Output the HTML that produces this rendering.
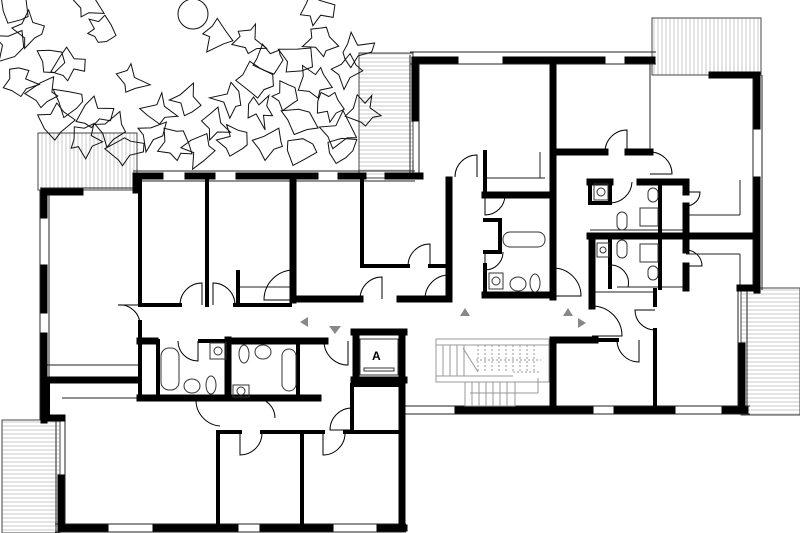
<!DOCTYPE html>
<html><head><meta charset="utf-8"><style>
html,body{margin:0;padding:0;background:#fff;width:800px;height:533px;overflow:hidden}
svg{display:block}
</style></head><body>
<svg id="s" width="800" height="533" viewBox="0 0 800 533" xmlns="http://www.w3.org/2000/svg">
<defs>
<pattern id="vs" width="4" height="4" patternUnits="userSpaceOnUse"><rect width="4" height="4" fill="#fff"/><line x1="2" y1="0" x2="2" y2="4" stroke="#bbb" stroke-width="0.8"/></pattern>
<pattern id="hs" width="4" height="4" patternUnits="userSpaceOnUse"><rect width="4" height="4" fill="#fff"/><line x1="0" y1="2" x2="4" y2="2" stroke="#bbb" stroke-width="0.8"/></pattern>
</defs>
<!-- balconies -->
<g stroke="#444" stroke-width="1">
<rect x="38" y="133" width="99" height="57" fill="url(#vs)"/>
<rect x="359" y="53" width="54" height="125" fill="url(#hs)"/>
<rect x="652" y="18" width="109" height="57" fill="url(#vs)"/>
<rect x="741" y="288" width="59" height="127" fill="url(#hs)"/>
<rect x="2" y="420" width="58" height="113" fill="url(#hs)"/>
</g>
<g id="trees" fill="none" stroke="#111" stroke-width="1"></g>
<circle cx="193" cy="14" r="15" fill="none" stroke="#111" stroke-width="1"/>
<!-- thin window/outline lines -->
<g stroke="#222" stroke-width="1" fill="none">
<line x1="133" y1="171" x2="415" y2="171"/><line x1="133" y1="181" x2="415" y2="181"/>
<line x1="40" y1="188" x2="137" y2="188"/><line x1="40" y1="190" x2="40" y2="420"/><line x1="49" y1="190" x2="49" y2="420"/>
<line x1="56" y1="420" x2="56" y2="533"/><line x1="65" y1="420" x2="65" y2="530"/>
<line x1="55" y1="524" x2="406" y2="524"/><line x1="55" y1="532" x2="406" y2="532"/>
<line x1="410" y1="52" x2="656" y2="52"/><line x1="410" y1="64" x2="656" y2="64"/>
<line x1="410" y1="55" x2="410" y2="178"/><line x1="419" y1="60" x2="419" y2="178"/>
<line x1="762" y1="75" x2="762" y2="290"/><line x1="753" y1="75" x2="753" y2="290"/>
<line x1="405" y1="406" x2="750" y2="406"/><line x1="405" y1="414" x2="750" y2="414"/>
<line x1="738" y1="290" x2="738" y2="412"/><line x1="747" y1="290" x2="747" y2="412"/>
<line x1="45" y1="365" x2="140" y2="365"/>
<line x1="62" y1="398" x2="215" y2="398"/>
<line x1="240" y1="287" x2="290" y2="287"/>
<line x1="485" y1="178" x2="545" y2="178"/>
<line x1="650" y1="62" x2="650" y2="152"/>
<line x1="590" y1="230" x2="686" y2="230"/>
<line x1="617" y1="287" x2="686" y2="287"/>
<line x1="593" y1="292" x2="655" y2="292"/>
<line x1="686" y1="215" x2="740" y2="215"/><line x1="740" y1="180" x2="740" y2="215"/>
<line x1="686" y1="254" x2="740" y2="254"/><line x1="740" y1="254" x2="740" y2="290"/>
<line x1="540" y1="152" x2="540" y2="178"/><line x1="413" y1="178" x2="413" y2="160"/>
</g>
<!-- walls -->
<g stroke="#000" fill="none" stroke-linecap="square">
<g stroke-width="7">
<line x1="137" y1="176" x2="160" y2="176"/><line x1="188" y1="176" x2="212" y2="176"/>
<line x1="239" y1="176" x2="315" y2="176"/><line x1="341" y1="176" x2="363" y2="176"/><line x1="389" y1="176" x2="413" y2="176"/>
<line x1="136" y1="176" x2="136" y2="190"/>
<line x1="44" y1="192" x2="80" y2="192"/>
<line x1="44" y1="192" x2="44" y2="215"/><line x1="44" y1="268" x2="44" y2="310"/><line x1="44" y1="336" x2="44" y2="420"/>
<line x1="44" y1="418" x2="62" y2="418"/>
<line x1="61" y1="478" x2="61" y2="528"/>
<line x1="61" y1="528" x2="105" y2="528"/><line x1="156" y1="528" x2="235" y2="528"/><line x1="263" y1="528" x2="330" y2="528"/><line x1="380" y1="528" x2="404" y2="528"/>
<line x1="402" y1="332" x2="402" y2="528"/>
<line x1="293" y1="177" x2="293" y2="300"/>
<line x1="293" y1="299" x2="360" y2="299"/><line x1="400" y1="299" x2="449" y2="299"/>
<line x1="449" y1="180" x2="449" y2="299"/>
<line x1="48" y1="380" x2="138" y2="380"/>
<line x1="140" y1="398" x2="226" y2="398"/><line x1="228" y1="398" x2="318" y2="398"/>
<line x1="228" y1="340" x2="228" y2="398"/>
<line x1="232" y1="341" x2="325" y2="341"/>
<line x1="140" y1="341" x2="155" y2="341"/>
<line x1="354" y1="332" x2="404" y2="332"/><line x1="356" y1="332" x2="356" y2="380"/><line x1="354" y1="380" x2="404" y2="380"/>
<line x1="415" y1="60" x2="455" y2="60"/><line x1="506" y1="60" x2="602" y2="60"/><line x1="628" y1="60" x2="652" y2="60"/>
<line x1="415" y1="60" x2="415" y2="118"/>
<line x1="388" y1="176" x2="420" y2="176"/>
<line x1="553" y1="60" x2="553" y2="297"/>
<line x1="485" y1="295" x2="553" y2="295"/>
<line x1="485" y1="195" x2="553" y2="195"/>
<line x1="712" y1="75" x2="757" y2="75"/><line x1="757" y1="75" x2="757" y2="126"/><line x1="757" y1="180" x2="757" y2="290"/>
<line x1="740" y1="288" x2="757" y2="288"/>
<line x1="590" y1="236" x2="757" y2="236"/>
<line x1="592" y1="236" x2="592" y2="306"/>
<line x1="686" y1="182" x2="686" y2="192"/><line x1="686" y1="206" x2="686" y2="232"/>
<line x1="686" y1="240" x2="686" y2="250"/><line x1="686" y1="266" x2="686" y2="288"/>
<line x1="553" y1="340" x2="595" y2="340"/><line x1="553" y1="340" x2="553" y2="410"/>
<line x1="458" y1="410" x2="590" y2="410"/><line x1="617" y1="410" x2="672" y2="410"/><line x1="725" y1="410" x2="745" y2="410"/>
<line x1="742" y1="346" x2="742" y2="410"/>
<line x1="553" y1="152" x2="605" y2="152"/><line x1="628" y1="152" x2="650" y2="152"/>
<line x1="590" y1="182" x2="610" y2="182"/><line x1="640" y1="182" x2="686" y2="182"/>
</g>
<g stroke-width="4">
<line x1="140" y1="180" x2="140" y2="305"/><line x1="140" y1="305" x2="180" y2="305"/><line x1="235" y1="305" x2="290" y2="305"/>
<line x1="207" y1="180" x2="207" y2="305"/>
<line x1="238" y1="272" x2="238" y2="305"/>
<line x1="362" y1="180" x2="362" y2="265"/><line x1="362" y1="266" x2="408" y2="266"/><line x1="430" y1="266" x2="449" y2="266"/>
<line x1="140" y1="322" x2="140" y2="398"/><line x1="158" y1="341" x2="158" y2="395"/>
<line x1="200" y1="341" x2="228" y2="341"/>
<line x1="298" y1="341" x2="298" y2="395"/>
<line x1="218" y1="432" x2="218" y2="528"/><line x1="302" y1="432" x2="302" y2="528"/>
<line x1="218" y1="432" x2="240" y2="432"/><line x1="262" y1="432" x2="323" y2="432"/><line x1="345" y1="432" x2="400" y2="432"/>
<line x1="352" y1="385" x2="352" y2="430"/><line x1="352" y1="385" x2="400" y2="385"/>
<line x1="485" y1="152" x2="485" y2="195"/><line x1="485" y1="265" x2="485" y2="295"/>
<line x1="485" y1="220" x2="500" y2="220"/><line x1="485" y1="252" x2="500" y2="252"/><line x1="500" y1="220" x2="500" y2="252"/>
<line x1="660" y1="182" x2="660" y2="232"/><line x1="660" y1="240" x2="660" y2="288"/>
<line x1="610" y1="240" x2="610" y2="287"/>
<line x1="590" y1="182" x2="590" y2="203"/><line x1="590" y1="203" x2="610" y2="203"/><line x1="610" y1="182" x2="610" y2="203"/>
<line x1="655" y1="290" x2="655" y2="305"/><line x1="655" y1="330" x2="655" y2="410"/>
<line x1="595" y1="340" x2="617" y2="340"/>
<line x1="48" y1="385" x2="48" y2="418"/>
</g>
</g>
<!-- doors -->
<g stroke="#000" stroke-width="1" fill="none">
<path d="M180 305 A22 22 0 0 1 202 283 L202 305"/>
<path d="M235 305 A22 22 0 0 0 213 283 L213 305"/>
<path d="M140 305 L118 305 A20 20 0 0 1 140 325"/>
<path d="M294 300 L264 300 A30 30 0 0 1 294 270"/>
<path d="M360 299 A22 22 0 0 1 382 277 L382 299"/>
<path d="M408 266 A22 22 0 0 1 430 244 L430 266"/>
<path d="M449 299 L425 299 A24 24 0 0 1 449 275"/>
<path d="M455 177 A22 22 0 0 1 477 155 L477 177"/>
<path d="M485 195 L485 215 A20 20 0 0 0 505 195"/>
<path d="M485 252 L485 270 A18 18 0 0 0 503 252"/>
<path d="M553 268 A28 28 0 0 1 581 296 L553 296"/>
<path d="M605 152 A22 22 0 0 1 627 130 L627 152"/>
<path d="M650 152 A22 22 0 0 1 672 174 L650 174"/>
<path d="M610 203 A22 22 0 0 0 632 182"/>
<path d="M686 192 L700 192 A14 14 0 0 1 686 206"/>
<path d="M686 250 A16 16 0 0 1 702 266 L686 266"/>
<path d="M610 265 A18 18 0 0 1 628 287"/>
<path d="M592 306 A30 30 0 0 1 622 336 L592 336"/>
<path d="M655 330 A20 20 0 0 1 635 310 L655 310"/>
<path d="M617 340 A22 22 0 0 0 639 362 L639 340"/>
<path d="M324 341 A24 24 0 0 0 348 365 L348 341"/>
<path d="M178 341 A20 20 0 0 0 198 361 L198 341"/>
<path d="M255 398 A20 20 0 0 1 275 418"/>
<path d="M225 400 L196 400 A26 26 0 0 0 220 426"/>
<path d="M240 432 L240 455 A22 22 0 0 0 262 432"/>
<path d="M323 432 L323 455 A22 22 0 0 0 345 432"/>
<path d="M352 430 L330 430 A22 22 0 0 1 352 408"/>
</g>
<!-- fixtures -->
<g stroke="#333" stroke-width="1" fill="none">
<rect x="161" y="348" width="18" height="42" rx="8"/>
<rect x="282" y="349" width="14" height="42" rx="7"/>
<rect x="503" y="232" width="42" height="15" rx="7"/>
<rect x="210" y="343" width="16" height="16"/><circle cx="218" cy="351" r="4"/>
<rect x="233" y="385" width="16" height="12"/><circle cx="241" cy="391" r="4"/>
<rect x="489" y="273" width="14" height="16"/><circle cx="496" cy="281" r="4"/>
<rect x="594" y="184" width="14" height="16"/><circle cx="601" cy="192" r="4"/>
<rect x="597" y="243" width="12" height="14"/><circle cx="603" cy="250" r="3"/>
<ellipse cx="192" cy="386" rx="8" ry="7"/><ellipse cx="211" cy="385" rx="5" ry="9"/>
<ellipse cx="244" cy="354" rx="5" ry="9"/><ellipse cx="263" cy="352" rx="8" ry="7"/>
<ellipse cx="518" cy="284" rx="8" ry="7"/><ellipse cx="535" cy="283" rx="5" ry="9"/>
<rect x="640" y="208" width="18" height="18"/><rect x="640" y="244" width="18" height="18"/>
<rect x="648" y="188" width="10" height="14" rx="5"/><rect x="648" y="266" width="10" height="14" rx="5"/>
<rect x="617" y="212" width="10" height="18" rx="5"/><rect x="617" y="240" width="10" height="18" rx="5"/>
<rect x="360" y="339" width="38" height="36"/><rect x="364" y="368" width="30" height="3"/>
</g>
<text x="372" y="360" font-family="Liberation Sans, sans-serif" font-weight="bold" font-size="12">A</text>
<!-- stairs -->
<g stroke="#999" stroke-width="1" fill="none">
<rect x="436" y="339" width="113" height="43"/><line x1="436" y1="345" x2="549" y2="345"/><line x1="436" y1="376" x2="513" y2="376"/>
<rect x="465" y="382" width="50" height="24"/>
<line x1="443" y1="345" x2="443" y2="376"/><line x1="450" y1="345" x2="450" y2="376"/><line x1="457" y1="345" x2="457" y2="376"/><line x1="464" y1="345" x2="464" y2="376"/>
<g stroke-dasharray="2 2"><line x1="478" y1="345" x2="478" y2="372"/><line x1="485" y1="345" x2="485" y2="372"/><line x1="492" y1="345" x2="492" y2="372"/><line x1="499" y1="345" x2="499" y2="372"/><line x1="506" y1="345" x2="506" y2="372"/><line x1="513" y1="345" x2="513" y2="372"/><line x1="520" y1="345" x2="520" y2="372"/><line x1="527" y1="345" x2="527" y2="372"/><line x1="534" y1="345" x2="534" y2="372"/><line x1="476" y1="360" x2="541" y2="360"/><line x1="513" y1="372" x2="541" y2="372"/></g>
<line x1="463" y1="348" x2="478" y2="372"/>
<line x1="472" y1="382" x2="472" y2="406"/><line x1="479" y1="382" x2="479" y2="406"/><line x1="486" y1="382" x2="486" y2="406"/><line x1="493" y1="382" x2="493" y2="406"/><line x1="500" y1="382" x2="500" y2="406"/><line x1="507" y1="382" x2="507" y2="406"/>
<line x1="470" y1="393" x2="538" y2="393"/><line x1="538" y1="378" x2="538" y2="393"/>
</g>
<!-- triangles -->
<g fill="#888">
<polygon points="300,322 308,317 308,327"/>
<polygon points="329,326 341,326 335,334"/>
<polygon points="465,308 460,316 470,316"/>
<polygon points="568,308 563,316 573,316"/>
<polygon points="586,323 578,318 578,328"/>
</g>
</svg>
<script>
(function(){
var seed=7;function r(){seed=(seed*16807)%2147483647;return (seed-1)/2147483646;}
var c=[[15,10],[30,30],[8,45],[50,60],[20,80],[45,95],[70,100],[55,120],[95,115],[110,130],[85,140],[125,150],[150,135],[160,110],[185,100],[175,145],[200,150],[215,125],[230,100],[235,140],[255,80],[260,110],[270,145],[285,95],[300,120],[295,60],[315,80],[320,40],[330,105],[345,70],[340,130],[355,50],[365,110],[315,10],[85,5],[215,35],[270,60],[130,80],[70,65],[340,150],[300,150],[250,40],[100,30]];
var g=document.getElementById('trees'),h='';
c.forEach(function(p){var n=7+Math.floor(r()*4),pts=[];for(var i=0;i<n;i++){var a=i/n*6.283+r()*0.5,rad=(i%2?5:12)+r()*9;pts.push((p[0]+Math.cos(a)*rad).toFixed(1)+','+(p[1]+Math.sin(a)*rad).toFixed(1));}h+='<polygon points="'+pts.join(' ')+'"/>';});
g.innerHTML=h;})();
</script>
</body></html>
